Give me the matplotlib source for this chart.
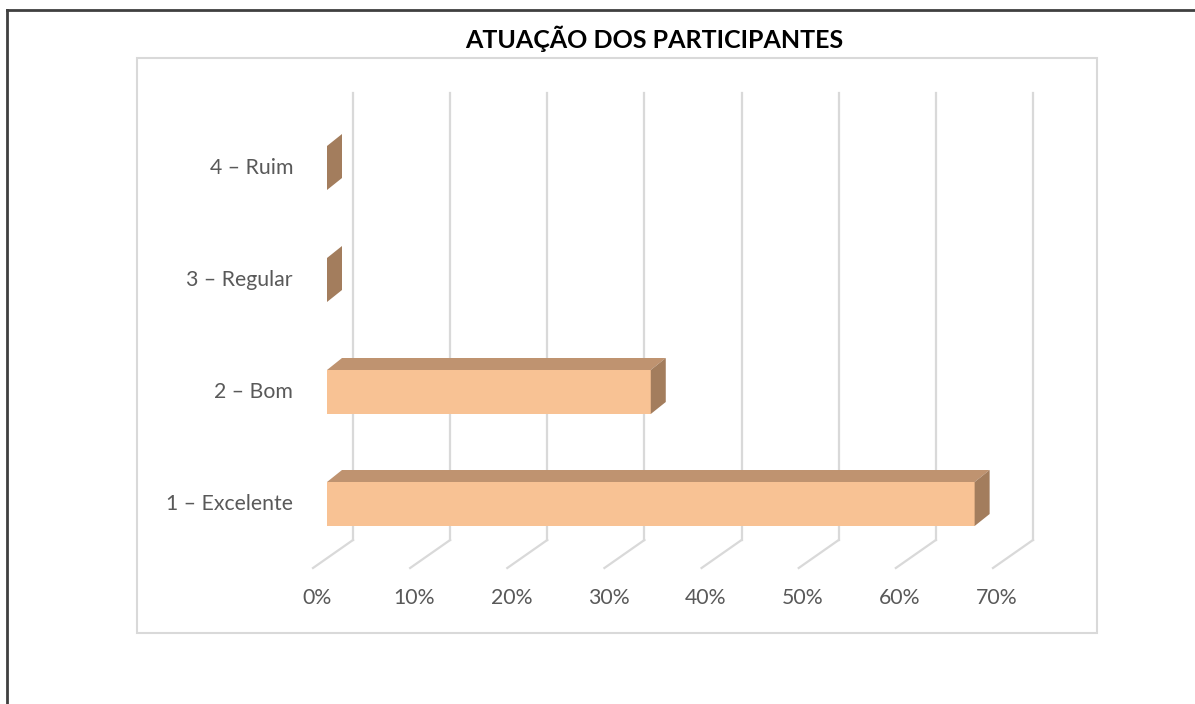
import matplotlib
matplotlib.use('Agg')
import matplotlib.pyplot as plt
from matplotlib.patches import Polygon, Rectangle
from matplotlib.lines import Line2D

# dados do gráfico
categorias = ['1 – Excelente', '2 – Bom', '3 – Regular', '4 – Ruim']
valores = [66.67, 33.33, 0, 0]   # %
ticks = [0, 10, 20, 30, 40, 50, 60, 70]
rotulos = ['0%', '10%', '20%', '30%', '40%', '50%', '60%', '70%']
titulo = 'ATUAÇÃO DOS PARTICIPANTES'

plt.rcParams['font.family'] = ['Lato', 'DejaVu Sans']

W, H = 1195, 704
fig = plt.figure(figsize=(W / 100, H / 100), dpi=100)
ax = fig.add_axes([0, 0, 1, 1])
ax.axis('off')

# escala: pixels por 1% e por categoria
px_x = 9.714
px_y = 112.0
x0, y0 = 327, 504
ax.set_xlim(-x0 / px_x, (W - x0) / px_x)
ax.set_ylim(-(H - y0) / px_y, y0 / px_y)


def dx(p):
    return p / px_x


def dy(p):
    # p em pixels para baixo
    return -p / px_y


grid = '#D9D9D9'
# parede do fundo e chão (efeito 3D)
for t in ticks:
    xb = t + dx(26)
    ax.plot([xb, xb], [dy(93 - y0), dy(540 - y0)], color=grid, lw=1.6, zorder=1)
    ax.plot([xb, xb - dx(40)], [dy(540 - y0), dy(568 - y0)], color=grid, lw=1.6, zorder=1)

# barras 3D
frente = '#F8C294'
topo = '#BF9370'
lado = '#A37D5D'
h = 44 / px_y
ddx, ddy = dx(15), 12 / px_y
for i, v in enumerate(valores):
    b, tp = i - h / 2, i + h / 2
    if v > 0:
        ax.add_patch(Rectangle((0, b), v, h, fc=frente, ec='none', zorder=3))
        ax.add_patch(Polygon([(0, tp), (v, tp), (v + ddx, tp + ddy), (ddx, tp + ddy)],
                             closed=True, fc=topo, ec='none', zorder=3))
    ax.add_patch(Polygon([(v, b), (v, tp), (v + ddx, tp + ddy), (v + ddx, b + ddy)],
                         closed=True, fc=lado, ec='none', zorder=3))

# rótulos das categorias
for i, c in enumerate(categorias):
    ax.text(dx(293 - x0), i, c, ha='right', va='center', fontsize=15.3, color='#595959')

# rótulos do eixo x
for t, r in zip(ticks, rotulos):
    ax.text(t + dx(-10), dy(598 - y0), r, ha='center', va='center', fontsize=15.3, color='#595959')

fig.text(654 / W, 1 - 39 / H, titulo, ha='center', va='center',
         fontsize=18, fontweight='bold', color='black')

# moldura externa e área do gráfico
fig.add_artist(Line2D([7 / W, 7 / W], [0, 1 - 10 / H], color='#404040', lw=2))
fig.add_artist(Line2D([7 / W, 1], [1 - 10 / H, 1 - 10 / H], color='#404040', lw=2))
fig.add_artist(Rectangle((137 / W, 1 - 633 / H), (1097 - 137) / W, (633 - 58) / H,
                         transform=fig.transFigure, fill=False, ec=grid, lw=1.5))

fig.savefig('out.png', dpi=100)
